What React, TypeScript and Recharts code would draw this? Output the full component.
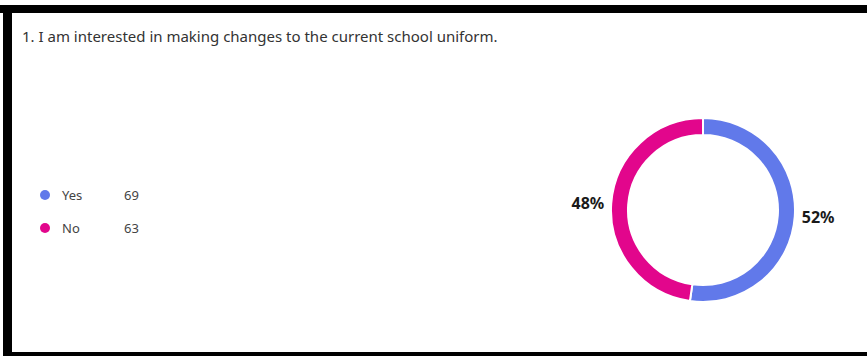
import React from "react";
import { PieChart, Pie, Cell } from "recharts";

const title = "1. I am interested in making changes to the current school uniform.";
const categories = ["Yes", "No"];
const counts = [69, 63];
const percentLabels = ["52%", "48%"];
const colors = ["#6179EA", "#E2068C"];

const data = categories.map((name, i) => ({ name, value: counts[i], label: percentLabels[i] }));

const RADIAN = Math.PI / 180;

const renderLabel = (props: any) => {
  const { cx, cy, midAngle, outerRadius, index } = props;
  const r = outerRadius + 7;
  const x = cx + r * Math.cos(-midAngle * RADIAN);
  const y = cy + r * Math.sin(-midAngle * RADIAN);
  const anchor = x > cx ? "start" : "end";
  return (
    <text
      x={x}
      y={y}
      textAnchor={anchor}
      dominantBaseline="central"
      fill="#1a1a1a"
      fontSize={16}
      fontWeight={700}
      fontFamily="'Noto Sans', sans-serif"
    >
      {percentLabels[index]}
    </text>
  );
};

export default function App() {
  return (
    <div
      style={{
        position: "absolute",
        left: 0,
        top: 0,
        width: 867,
        height: 356,
        background: "#fff",
        overflow: "hidden",
        fontFamily: "'Noto Sans', sans-serif",
      }}
    >
      <div style={{ position: "absolute", left: 0, top: 5, width: 867, height: 8, background: "#000" }} />
      <div style={{ position: "absolute", left: 3, top: 5, width: 9, height: 351, background: "#000" }} />
      <div style={{ position: "absolute", left: 3, top: 352, width: 864, height: 4, background: "#000" }} />
      <div
        style={{
          position: "absolute",
          left: 22,
          top: 26,
          fontSize: 15,
          color: "#333",
          whiteSpace: "nowrap",
        }}
      >
        {title}
      </div>
      {data.map((d, i) => (
        <div
          key={d.name}
          style={{ position: "absolute", left: 40, top: 186 + i * 33, height: 18, display: "flex", alignItems: "center", fontSize: 13, color: "#444" }}
        >
          <span style={{ display: "inline-block", width: 10, height: 10, borderRadius: 5, background: colors[i], marginRight: 12 }} />
          <span style={{ width: 62 }}>{d.name}</span>
          <span>{d.value}</span>
        </div>
      ))}
      <div style={{ position: "absolute", left: 0, top: 0 }}>
        <PieChart width={867} height={356} margin={{ top: 0, right: 0, bottom: 0, left: 0 }}>
          <Pie
            data={data}
            dataKey="value"
            cx={703}
            cy={210}
            innerRadius={75}
            outerRadius={92}
            startAngle={90}
            endAngle={-270}
            stroke="#fff"
            strokeWidth={2}
            label={renderLabel}
            labelLine={false}
            isAnimationActive={false}
          >
            {data.map((d, i) => (
              <Cell key={d.name} fill={colors[i]} />
            ))}
          </Pie>
        </PieChart>
      </div>
    </div>
  );
}
